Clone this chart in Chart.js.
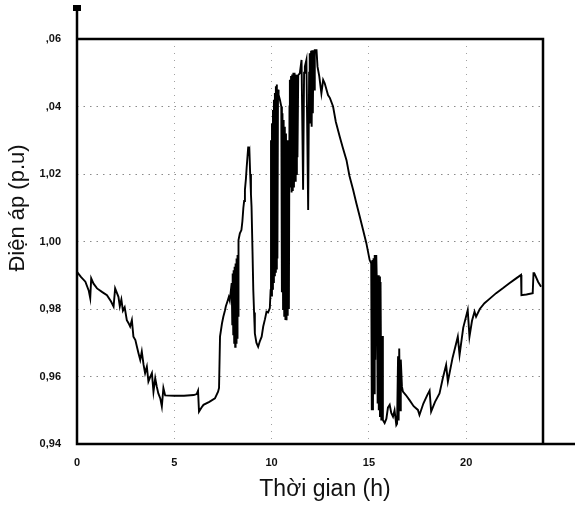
<!DOCTYPE html>
<html>
<head>
<meta charset="utf-8">
<script src="https://cdn.jsdelivr.net/npm/chart.js@4.4.1/dist/chart.umd.min.js"></script>
<style>
  html, body { margin: 0; padding: 0; background: #fff; }
  #wrap { width: 575px; height: 514px; }
</style>
</head>
<body>
<div id="wrap"><canvas id="c" width="575" height="514"></canvas></div>
<script>
// time of day (h)
const HOURS = [
  0.00, 0.20, 0.43, 0.60, 0.68, 0.73, 0.85, 1.03, 1.30, 1.54, 1.75, 1.88, 1.96, 2.05, 2.13, 2.20, 2.28, 2.36, 2.45, 2.56, 2.65, 2.73, 2.82, 2.90, 3.00, 3.08, 3.16, 3.25, 3.33, 3.42, 3.50, 3.59, 3.67, 3.76, 3.85, 3.93, 4.02, 4.10, 4.18, 4.28, 4.36, 4.44, 4.53,
  5.00, 5.50, 6.00, 6.15, 6.22, 6.27, 6.40, 6.50, 6.80, 7.09, 7.25, 7.30, 7.35, 7.45, 7.52, 7.60, 7.65, 7.73, 7.80, 7.85, 7.95,
  7.98, 8.00, 8.03, 8.05, 8.08, 8.10, 8.13, 8.15, 8.18, 8.20, 8.23, 8.25, 8.28, 8.30, 8.37, 8.45, 8.50, 8.55, 8.59, 8.63, 8.68, 8.72, 8.76, 8.80, 8.83, 8.86, 8.90, 8.94, 8.97, 9.02, 9.06, 9.10, 9.14, 9.22, 9.31, 9.40, 9.49, 9.57, 9.66, 9.74, 9.82, 9.91,
  9.95, 9.97, 10.00, 10.02, 10.05, 10.07, 10.10, 10.12, 10.15, 10.17, 10.20, 10.22, 10.25, 10.27, 10.30, 10.33, 10.36, 10.43, 10.50,
  10.53, 10.56, 10.59, 10.62, 10.65, 10.68, 10.71, 10.74, 10.77, 10.80, 10.83, 10.86, 10.89, 10.92, 10.94,
  10.97, 11.00, 11.03, 11.06, 11.09, 11.12, 11.15, 11.18, 11.21, 11.24, 11.27, 11.30, 11.33, 11.37, 11.45, 11.54, 11.62, 11.67, 11.71, 11.79, 11.88, 11.93, 11.96, 12.00, 12.03, 12.06, 12.09, 12.12, 12.15, 12.18, 12.22, 12.31, 12.36,
  12.45, 12.56, 12.65, 12.73, 12.90, 13.00, 13.16, 13.30, 13.50, 13.65, 13.85, 14.00, 14.19, 14.35, 14.53, 14.70, 14.87, 15.04, 15.12,
  15.15, 15.18, 15.21, 15.24, 15.27, 15.30, 15.33, 15.38, 15.42, 15.45, 15.48, 15.51, 15.54, 15.57, 15.60, 15.64, 15.68, 15.72, 15.81, 15.90, 15.98, 16.07, 16.15, 16.24, 16.32, 16.41, 16.45, 16.50, 16.53, 16.56, 16.60, 16.64, 16.70, 16.75,
  16.90, 17.09, 17.30, 17.52, 17.60, 17.80, 18.00, 18.12, 18.20, 18.40, 18.63, 18.80, 18.97, 19.06, 19.30, 19.57, 19.66, 19.85, 20.08, 20.17, 20.30, 20.43, 20.51, 20.70, 20.94, 21.20, 21.54, 21.90, 22.22, 22.55, 22.82, 22.84, 23.10, 23.42, 23.46, 23.50, 23.70, 23.85
];

// bus voltage (p.u), same order as HOURS
const VOLTAGE = [
  0.9910, 0.9895, 0.9881, 0.9855, 0.9832, 0.9891, 0.9875, 0.9861, 0.9850, 0.9841, 0.9822, 0.9807, 0.9861, 0.9848, 0.9836, 0.9808, 0.9828, 0.9795, 0.9805, 0.9767, 0.9758, 0.9748, 0.9767, 0.9718, 0.9708, 0.9688, 0.9669, 0.9649, 0.9674, 0.9635, 0.9610, 0.9629, 0.9585, 0.9598, 0.9610, 0.9555, 0.9595, 0.9570, 0.9550, 0.9535, 0.9511, 0.9566, 0.9544,
  0.9543, 0.9543, 0.9545, 0.9548, 0.9558, 0.9496, 0.9508, 0.9516, 0.9525, 0.9535, 0.9555, 0.9566, 0.9718, 0.9757, 0.9777, 0.9795, 0.9808, 0.9822, 0.9835, 0.9825, 0.9877,
  0.9755, 0.9905, 0.9725, 0.9915, 0.9700, 0.9925, 0.9688, 0.9935, 0.9700, 0.9950, 0.9715, 0.9960, 0.9780, 1.0004, 1.0024, 1.0034, 1.0060, 1.0100, 1.0120, 1.0153, 1.0185, 1.0220, 1.0250, 1.0281, 1.0265, 1.0270, 1.0200, 1.0140, 1.0103, 0.9970, 0.9856, 0.9790, 0.9728, 0.9700, 0.9688, 0.9705, 0.9718, 0.9748, 0.9770, 0.9792, 0.9790, 0.9803,
  0.9856, 1.0300, 0.9840, 1.0350, 0.9860, 1.0390, 0.9880, 1.0420, 0.9900, 1.0440, 0.9910, 1.0460, 0.9920, 1.0465, 0.9950, 1.0450, 1.0435, 1.0419, 1.0400,
  0.9850, 1.0380, 0.9800, 1.0360, 0.9780, 1.0340, 0.9770, 1.0320, 0.9767, 1.0300, 0.9780, 1.0280, 0.9800, 1.0400, 1.0479,
  1.0160, 1.0490, 1.0145, 1.0495, 1.0150, 1.0500, 1.0160, 1.0500, 1.0180, 1.0495, 1.0200, 1.0493, 1.0250, 1.0493, 1.0498, 1.0538, 1.0153, 1.0500, 1.0518, 1.0538, 1.0093, 1.0500, 1.0558, 1.0350, 1.0565, 1.0340, 1.0567, 1.0380, 1.0567, 1.0450, 1.0567, 1.0567, 1.0518,
  1.0490, 1.0439, 1.0479, 1.0469, 1.0434, 1.0425, 1.0400, 1.0355, 1.0311, 1.0280, 1.0241, 1.0195, 1.0153, 1.0115, 1.0074, 1.0035, 0.9995, 0.9945, 0.9935,
  0.9500, 0.9945, 0.9500, 0.9950, 0.9550, 0.9960, 0.9650, 0.9960, 0.9850, 0.9520, 0.9900, 0.9500, 0.9896, 0.9480, 0.9880, 0.9470, 0.9720, 0.9471, 0.9462, 0.9475, 0.9508, 0.9516, 0.9492, 0.9481, 0.9500, 0.9456, 0.9460, 0.9660, 0.9470, 0.9683, 0.9500, 0.9650, 0.9570, 0.9555,
  0.9545, 0.9530, 0.9512, 0.9501, 0.9486, 0.9520, 0.9545, 0.9558, 0.9496, 0.9525, 0.9550, 0.9595, 0.9634, 0.9585, 0.9655, 0.9718, 0.9664, 0.9745, 0.9797, 0.9718, 0.9765, 0.9792, 0.9777, 0.9800, 0.9817, 0.9830, 0.9847, 0.9862, 0.9876, 0.9890, 0.9901, 0.9841, 0.9843, 0.9847, 0.9906, 0.9906, 0.9880, 0.9866
];

const X_TICKS = [0, 5, 10, 15, 20];
const Y_TICKS = [0.94, 0.96, 0.98, 1.00, 1.02, 1.04, 1.06];
const Y_LABELS = ['0,94', '0,96', '0,98', '1,00', '1,02', ',04', ',06'];
const X_TITLE = 'Thời gian (h)';
const Y_TITLE = 'Điện áp (p.u)';

const FONT = '"Liberation Sans", Arial, sans-serif';

// black frame (axis runs past the box like in the scan) + axis titles
const framePlugin = {
  id: 'frame',
  afterDraw(chart) {
    const { ctx, chartArea: { left, right, top, bottom } } = chart;
    ctx.save();
    ctx.strokeStyle = '#000';
    ctx.lineWidth = 2.5;
    ctx.beginPath();
    ctx.moveTo(left, 9);
    ctx.lineTo(left, bottom);
    ctx.lineTo(chart.width, bottom);
    ctx.moveTo(left, top);
    ctx.lineTo(right - 1, top);
    ctx.lineTo(right - 1, bottom);
    ctx.stroke();
    ctx.fillStyle = '#000';
    ctx.fillRect(left - 4, 5, 8, 6);

    ctx.fillStyle = '#111';
    ctx.font = '23px ' + FONT;
    ctx.textAlign = 'center';
    ctx.textBaseline = 'middle';
    ctx.fillText(X_TITLE, 325, 490);
    ctx.font = '22px ' + FONT;
    ctx.translate(18, 208);
    ctx.rotate(-Math.PI / 2);
    ctx.fillText(Y_TITLE, 0, 0);
    ctx.restore();
  }
};

new Chart(document.getElementById('c'), {
  type: 'line',
  data: {
    datasets: [{
      data: HOURS.map((h, i) => ({ x: h, y: VOLTAGE[i] })),
      borderColor: '#000',
      borderWidth: 1.9,
      pointRadius: 0,
      tension: 0
    }]
  },
  options: {
    responsive: false,
    animation: false,
    devicePixelRatio: 1,
    layout: { padding: { top: 39, right: 31, left: 0, bottom: 0 } },
    plugins: { legend: { display: false }, tooltip: { enabled: false } },
    scales: {
      x: {
        type: 'linear',
        min: 0,
        max: 24,
        afterBuildTicks: axis => { axis.ticks = X_TICKS.map(v => ({ value: v })); },
        afterFit: scale => { scale.height = 70; },
        grid: {
          drawTicks: false,
          color: c => (c.tick && c.tick.value === 0) ? 'rgba(0,0,0,0)' : '#a0a0a0',
          lineWidth: 1
        },
        border: { display: false, dash: [1, 6] },
        ticks: {
          padding: 12,
          maxRotation: 0,
          color: '#111',
          font: { family: FONT, size: 11, weight: 'bold' }
        }
      },
      y: {
        min: 0.94,
        max: 1.06,
        afterBuildTicks: axis => { axis.ticks = Y_TICKS.map(v => ({ value: v })); },
        afterFit: scale => { scale.width = 77; },
        grid: {
          drawTicks: false,
          color: c => (c.tick && (c.tick.value <= 0.941 || c.tick.value >= 1.059)) ? 'rgba(0,0,0,0)' : '#8a8a8a',
          lineWidth: 1
        },
        border: { display: false, dash: [1.5, 5] },
        ticks: {
          padding: 16,
          color: '#111',
          font: { family: FONT, size: 11, weight: 'bold' },
          callback: v => Y_LABELS[Y_TICKS.findIndex(t => Math.abs(t - v) < 1e-6)]
        }
      }
    }
  },
  plugins: [framePlugin]
});
</script>
</body>
</html>
